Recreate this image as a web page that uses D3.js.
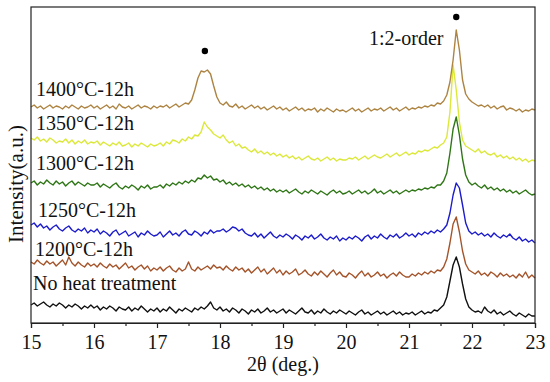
<!DOCTYPE html>
<html>
<head>
<meta charset="utf-8">
<script src="https://cdn.jsdelivr.net/npm/d3@7"></script>
<style>
  body { margin: 0; background: #fff; }
  svg, svg text { font-family: "Liberation Serif", "Times New Roman", Times, "DejaVu Serif", serif !important; }
  text { fill: #111; }
</style>
</head>
<body>
<svg width="550" height="382"></svg>
<script>
// 2theta sampling: 15 .. 23 deg, step 0.05
var thetaStart = 15, thetaStep = 0.05;

var sampleNames = ["No heat treatment", "1200\u00b0C-12h", "1250\u00b0C-12h", "1300\u00b0C-12h", "1350\u00b0C-12h", "1400\u00b0C-12h"];
var sampleOffsets = [6, 45, 80, 128, 161, 211];

var noHeat = [
  12,14,11,13,15,12,10,13,11,14,12,9,12,10,13,11,8,11,9,12,
  9,11,7,10,8,11,9,6,10,8,7,10,6,9,7,11,8,5,8,6,
  9,5,8,6,10,7,4,8,6,9,7,5,9,7,10,8,11,15,9,7,
  10,6,8,5,9,7,4,8,6,3,7,5,8,4,6,9,5,7,4,6,
  8,4,7,5,3,6,9,5,4,7,3,6,4,8,5,3,6,4,7,5,
  3,6,4,2,5,7,3,5,2,4,6,3,5,2,4,6,3,5,2,4,
  3,5,2,4,6,3,5,4,7,6,9,12,20,36,52,60,50,33,18,10,
  7,5,6,4,10,6,4,7,3,5,2,4,6,3,1,4,2,0,3,1,
  1];
var heat1200 = [
  16,14,18,15,13,17,14,16,12,15,18,13,21,15,12,16,13,11,15,12,
  14,11,15,12,10,14,11,13,9,12,15,10,12,8,11,13,9,12,7,10,
  8,11,7,10,12,8,6,10,7,9,16,9,7,11,8,10,12,9,13,10,
  11,8,12,9,7,11,8,10,6,9,5,8,11,6,9,4,7,10,5,8,
  3,7,4,6,9,3,5,8,4,2,6,3,7,4,1,5,8,3,6,2,
  1,5,3,0,4,7,2,5,1,3,6,2,4,0,3,5,2,6,3,1,
  1,4,2,5,3,6,4,7,5,8,7,11,19,35,54,61,46,27,14,8,
  6,4,7,3,5,2,6,4,1,5,2,4,1,3,0,4,1,6,0,3,
  0];
var heat1250 = [
  18,20,16,19,15,17,13,16,18,14,12,15,17,13,11,14,12,15,10,13,
  11,14,9,12,10,7,11,13,8,10,12,7,9,11,6,10,8,12,9,7,
  8,11,6,9,12,8,10,7,11,13,9,8,12,10,7,11,9,13,10,12,
  12,14,11,13,16,15,12,14,10,8,7,10,6,9,5,8,11,7,5,8,
  6,9,7,4,8,6,3,7,5,8,4,6,9,5,3,6,4,7,2,5,
  3,6,4,7,5,2,6,8,4,7,5,9,6,4,8,6,9,5,7,10,
  7,9,6,10,8,11,9,12,10,13,11,14,18,30,48,60,55,38,20,12,
  9,11,8,10,7,9,6,10,7,5,8,6,9,5,3,6,2,4,1,3,
  0];
var heat1300 = [
  12,14,10,13,11,15,12,10,14,11,13,9,12,14,10,13,11,9,12,10,
  10,12,8,11,9,7,10,12,8,6,9,7,10,8,5,9,7,10,6,8,
  8,10,7,11,9,12,10,13,11,14,12,15,13,17,16,20,17,19,15,16,
  13,15,11,13,10,12,9,11,8,10,7,9,6,8,5,7,4,6,3,5,
  3,5,2,4,6,3,1,4,2,5,3,1,4,2,0,3,5,2,4,1,
  2,4,1,3,5,2,4,1,3,6,2,4,1,3,5,2,4,1,3,5,
  3,5,4,6,5,7,6,8,7,10,10,14,22,42,66,78,60,36,20,13,
  10,12,9,7,10,6,8,5,7,4,6,3,5,2,4,1,3,5,2,0,
  1];
var heat1350 = [
  24,22,25,21,23,20,24,22,19,21,20,23,19,22,18,21,19,22,18,20,
  19,21,17,20,18,16,19,17,20,16,17,19,15,18,16,19,17,15,18,16,
  17,19,16,20,18,22,21,19,23,21,25,23,27,26,30,40,35,32,28,26,
  24,27,22,19,21,16,18,14,15,12,10,13,9,11,8,10,7,9,6,8,
  5,7,4,6,3,5,2,4,6,3,2,4,1,3,5,2,4,1,3,2,
  2,4,3,5,2,4,6,3,5,7,5,4,6,8,5,7,9,6,8,10,
  7,9,8,11,10,12,11,13,15,14,17,19,25,50,97,72,40,22,16,14,
  12,10,13,9,11,8,7,9,5,7,4,6,3,5,2,4,1,3,0,2,
  1];
var heat1400 = [
  5,7,4,6,3,5,7,4,6,5,3,6,4,7,5,3,6,4,5,7,
  4,6,3,5,7,4,6,3,8,5,4,6,3,5,7,4,6,5,3,6,
  4,6,5,7,4,6,8,5,7,9,8,12,22,34,41,40,42,38,26,15,
  9,7,10,6,5,8,4,6,3,5,7,4,6,3,5,2,4,6,3,5,
  2,4,1,3,5,2,4,1,3,2,4,0,3,1,4,2,0,3,1,2,
  0,2,4,1,3,0,2,4,1,3,2,4,1,3,5,2,4,1,3,5,
  2,4,3,5,4,6,5,7,6,9,8,11,17,30,52,82,62,32,18,13,
  10,8,6,7,5,7,4,6,3,5,6,2,4,3,1,3,0,2,1,3,
  2];

var sampleValues = [noHeat, heat1200, heat1250, heat1300, heat1350, heat1400];
var sampleColors = ["#111111", "#a4542a", "#1c1ccc", "#2f7616", "#dce83a", "#ad8442"];

var xTicks = [15, 16, 17, 18, 19, 20, 21, 22, 23];
var markerPeaks = [{theta: 17.76, level: 272}, {theta: 21.75, level: 306}];

// layout
var serif = "'Liberation Serif', 'Times New Roman', Times, 'DejaVu Serif', serif";
var svg = d3.select("svg").attr("font-family", serif);
var margin = {left: 31, right: 15, top: 7, bottom: 59};
var width = 550, height = 382;

var x = d3.scaleLinear().domain([15, 23]).range([margin.left, width - margin.right]);
var y = d3.scaleLinear().domain([0, 316]).range([height - margin.bottom, margin.top]);

var line = d3.line()
    .x(function(d) { return x(d.theta); })
    .y(function(d) { return y(d.v); });

sampleValues.forEach(function(vals, k) {
  var pts = vals.map(function(v, i) {
    return {theta: thetaStart + i * thetaStep, v: v + sampleOffsets[k]};
  });
  svg.append("path")
      .datum(pts)
      .attr("fill", "none")
      .attr("stroke", sampleColors[k])
      .attr("stroke-width", 1.4)
      .attr("stroke-linejoin", "round")
      .attr("d", line);
});

// frame
svg.append("rect")
    .attr("x", margin.left)
    .attr("y", margin.top)
    .attr("width", width - margin.left - margin.right)
    .attr("height", height - margin.top - margin.bottom)
    .attr("fill", "none")
    .attr("stroke", "#222")
    .attr("stroke-width", 1.2);

// bottom axis
var xAxis = svg.append("g")
    .attr("transform", "translate(0," + (height - margin.bottom) + ")")
    .call(d3.axisBottom(x).tickValues(xTicks).tickSize(5).tickPadding(7).tickFormat(d3.format("d")));
xAxis.attr("font-family", serif).attr("font-size", 20);
xAxis.select(".domain").attr("stroke", "#222").attr("stroke-width", 1.2);
xAxis.selectAll(".tick line").attr("stroke", "#222").attr("stroke-width", 1.2);
xAxis.selectAll(".tick text").attr("fill", "#111");

var minor = svg.append("g")
    .attr("transform", "translate(0," + (height - margin.bottom) + ")")
    .call(d3.axisBottom(x).tickValues(xTicks.slice(0, -1).map(function(t) { return t + 0.5; })).tickSize(3).tickFormat(""));
minor.select(".domain").remove();
minor.selectAll(".tick line").attr("stroke", "#222").attr("stroke-width", 1.2);

// axis titles
svg.append("text")
    .attr("x", 283)
    .attr("y", 371)
    .attr("text-anchor", "middle")
    .attr("font-size", 20)
    .text("2\u03b8 (deg.)");

svg.append("text")
    .attr("transform", "translate(23,184) rotate(-90)")
    .attr("text-anchor", "middle")
    .attr("font-size", 21)
    .text("Intensity(a.u.)");

// sample labels
var labelPos = [[33, 290], [35, 256], [38, 217], [36, 170], [36, 130], [36, 96]];
sampleNames.forEach(function(name, k) {
  svg.append("text")
      .attr("x", labelPos[k][0])
      .attr("y", labelPos[k][1])
      .attr("font-size", 20)
      .text(name);
});

// peak markers
svg.selectAll(".marker")
    .data(markerPeaks)
    .enter().append("circle")
      .attr("cx", function(d) { return x(d.theta); })
      .attr("cy", function(d) { return y(d.level); })
      .attr("r", 3.2)
      .attr("fill", "#000");

svg.append("text")
    .attr("x", 369)
    .attr("y", 45)
    .attr("font-size", 20)
    .text("1:2-order");
</script>
</body>
</html>
